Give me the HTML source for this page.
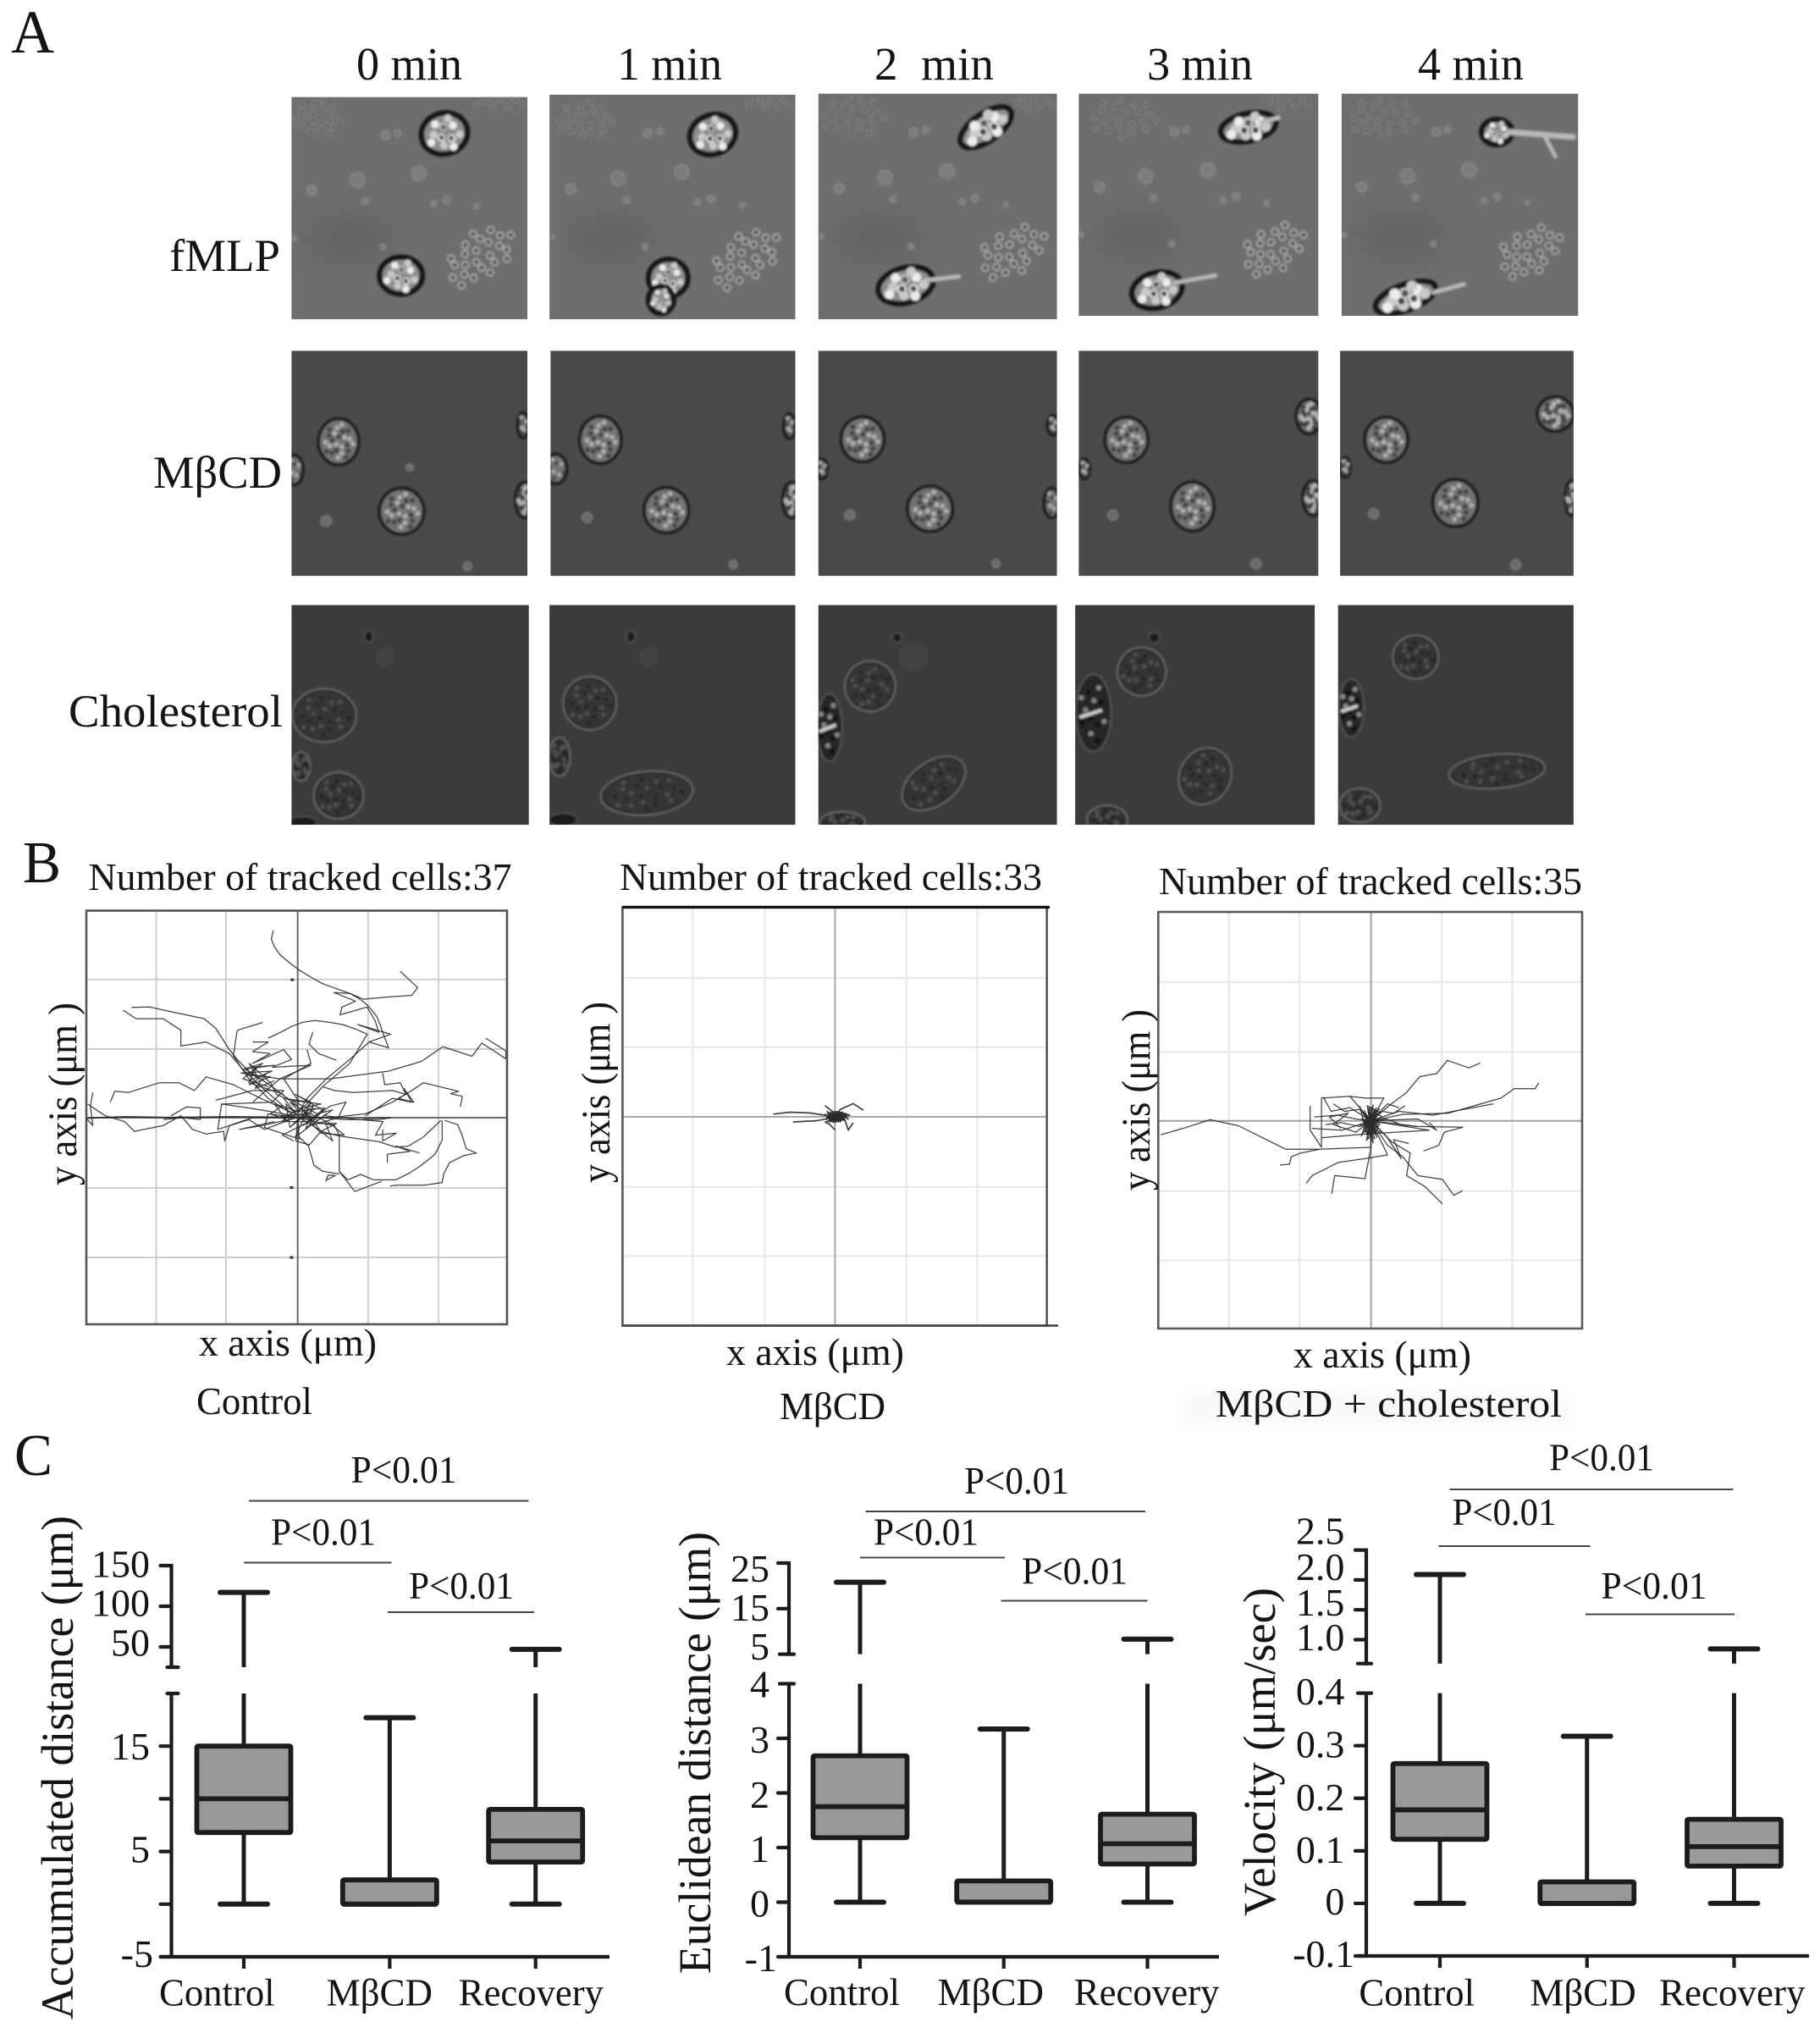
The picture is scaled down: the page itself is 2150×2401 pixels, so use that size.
<!DOCTYPE html>
<html lang="en">
<head>
<meta charset="utf-8">
<title>Cell migration figure</title>
<style>
html,body{margin:0;padding:0;background:#fff;}
svg{display:block;}
text{font-family:"Liberation Serif","DejaVu Serif",serif;fill:#141414;}
</style>
</head>
<body>
<svg id="fig" xmlns="http://www.w3.org/2000/svg" width="2150" height="2401" viewBox="0 0 2150 2401">
<defs>
<filter id="soft" x="-5%" y="-5%" width="110%" height="110%"><feGaussianBlur stdDeviation="1.4"/></filter>
<filter id="softer" x="-30%" y="-30%" width="160%" height="160%"><feGaussianBlur stdDeviation="16"/></filter>
<filter id="trackBlur" x="-5%" y="-5%" width="110%" height="110%"><feGaussianBlur stdDeviation="0.35"/></filter>
<filter id="backdropBlur" x="-10%" y="-40%" width="120%" height="180%"><feGaussianBlur stdDeviation="6"/></filter>
</defs>
<rect width="2150" height="2401" fill="#ffffff"/>

<g id="panelA"></g>
<g id="panelB"></g>
<g id="panelC"></g>

<g>
<text x="13" y="62" font-size="72" textLength="51" lengthAdjust="spacingAndGlyphs">A</text>
<text x="421" y="94" font-size="55" textLength="125" lengthAdjust="spacingAndGlyphs">0 min</text>
<text x="729" y="94" font-size="55" textLength="124" lengthAdjust="spacingAndGlyphs">1 min</text>
<text x="1033" y="94" font-size="55" xml:space="preserve" textLength="141" lengthAdjust="spacingAndGlyphs">2  min</text>
<text x="1355" y="94" font-size="55" textLength="125" lengthAdjust="spacingAndGlyphs">3 min</text>
<text x="1675" y="94" font-size="55" textLength="125" lengthAdjust="spacingAndGlyphs">4 min</text>
<text x="200" y="320" font-size="54" textLength="131" lengthAdjust="spacingAndGlyphs">fMLP</text>
<text x="181" y="576" font-size="54" textLength="152" lengthAdjust="spacingAndGlyphs">MβCD</text>
<text x="81" y="858" font-size="54" textLength="253" lengthAdjust="spacingAndGlyphs">Cholesterol</text>
</g>

<g>
<text x="27" y="1042" font-size="70" textLength="45" lengthAdjust="spacingAndGlyphs">B</text>
<text x="104.5" y="1051" font-size="46" textLength="500" lengthAdjust="spacingAndGlyphs">Number of tracked cells:37</text>
<text x="732" y="1051" font-size="46" textLength="499" lengthAdjust="spacingAndGlyphs">Number of tracked cells:33</text>
<text x="1369" y="1056" font-size="46" textLength="500" lengthAdjust="spacingAndGlyphs">Number of tracked cells:35</text>
<text transform="translate(90,1400) rotate(-90)" font-size="48" xml:space="preserve" textLength="216" lengthAdjust="spacingAndGlyphs">y axis (μm )</text>
<text transform="translate(720,1397) rotate(-90)" font-size="48" xml:space="preserve" textLength="214" lengthAdjust="spacingAndGlyphs">y axis (μm )</text>
<text transform="translate(1358,1406) rotate(-90)" font-size="48" xml:space="preserve" textLength="214" lengthAdjust="spacingAndGlyphs">y axis (μm )</text>
<text x="235" y="1601" font-size="46" textLength="210" lengthAdjust="spacingAndGlyphs">x axis (μm)</text>
<text x="858" y="1612" font-size="46" textLength="210" lengthAdjust="spacingAndGlyphs">x axis (μm)</text>
<text x="1528" y="1615" font-size="46" textLength="210" lengthAdjust="spacingAndGlyphs">x axis (μm)</text>
<text x="232" y="1670" font-size="46" textLength="137" lengthAdjust="spacingAndGlyphs">Control</text>
<text x="921" y="1676" font-size="46" textLength="125" lengthAdjust="spacingAndGlyphs">MβCD</text>
<rect x="1395" y="1642" width="460" height="46" fill="#f9f9f9" filter="url(#backdropBlur)"/>
<text x="1436" y="1673" font-size="46" textLength="409" lengthAdjust="spacingAndGlyphs">MβCD + cholesterol</text>
</g>

<g>
<text x="17" y="1742" font-size="70" textLength="45" lengthAdjust="spacingAndGlyphs">C</text>
<text transform="translate(86,2385) rotate(-90)" font-size="54" textLength="595" lengthAdjust="spacingAndGlyphs">Accumulated distance (μm)</text>
<text transform="translate(839,2331) rotate(-90)" font-size="54" textLength="522" lengthAdjust="spacingAndGlyphs">Euclidean distance (μm)</text>
<text transform="translate(1506,2263) rotate(-90)" font-size="54" textLength="388" lengthAdjust="spacingAndGlyphs">Velocity (μm/sec)</text>

<text x="414.5" y="1751" font-size="46" textLength="125" lengthAdjust="spacingAndGlyphs">P&lt;0.01</text>
<text x="320" y="1824.5" font-size="46" textLength="124" lengthAdjust="spacingAndGlyphs">P&lt;0.01</text>
<text x="483" y="1888" font-size="46" textLength="124" lengthAdjust="spacingAndGlyphs">P&lt;0.01</text>
<line x1="294" y1="1772.5" x2="624.5" y2="1772.5" stroke="#444" stroke-width="2"/>
<line x1="288" y1="1845.5" x2="462.5" y2="1845.5" stroke="#444" stroke-width="2"/>
<line x1="458" y1="1904" x2="631" y2="1904" stroke="#444" stroke-width="2"/>

<text x="1139" y="1764" font-size="46" textLength="124" lengthAdjust="spacingAndGlyphs">P&lt;0.01</text>
<text x="1032" y="1824.5" font-size="46" textLength="124" lengthAdjust="spacingAndGlyphs">P&lt;0.01</text>
<text x="1207" y="1870.5" font-size="46" textLength="125" lengthAdjust="spacingAndGlyphs">P&lt;0.01</text>
<line x1="1022.5" y1="1785" x2="1353" y2="1785" stroke="#444" stroke-width="2"/>
<line x1="1016" y1="1839.5" x2="1187" y2="1839.5" stroke="#444" stroke-width="2"/>
<line x1="1182.5" y1="1890.5" x2="1355.5" y2="1890.5" stroke="#444" stroke-width="2"/>

<text x="1830" y="1736.5" font-size="46" textLength="124" lengthAdjust="spacingAndGlyphs">P&lt;0.01</text>
<text x="1715.5" y="1801" font-size="46" textLength="123" lengthAdjust="spacingAndGlyphs">P&lt;0.01</text>
<text x="1891.5" y="1888" font-size="46" textLength="125" lengthAdjust="spacingAndGlyphs">P&lt;0.01</text>
<line x1="1712.5" y1="1759" x2="2047.5" y2="1759" stroke="#444" stroke-width="2"/>
<line x1="1699.5" y1="1826" x2="1878.5" y2="1826" stroke="#444" stroke-width="2"/>
<line x1="1873" y1="1906.5" x2="2049" y2="1906.5" stroke="#444" stroke-width="2"/>
</g>
</svg>

<script>
/* ---------- Panel C data ---------- */
const boxCategories = ['Control', 'MβCD', 'Recovery'];

const accumulatedMin = [0, 0, 0];
const accumulatedQ1 = [6.8, 0, 4];
const accumulatedMedian = [10, 0, 6];
const accumulatedQ3 = [15, 2.3, 9];
const accumulatedMax = [117, 17.7, 47];
const accumulatedLowerTicks = [-5, 0, 5, 10, 15, 20];
const accumulatedUpperTicks = [25, 50, 100, 150];
const accumulatedTickLabels = ['-5', '5', '15', '50', '100', '150'];

const euclideanMin = [0, 0, 0];
const euclideanQ1 = [1.18, 0, 0.7];
const euclideanMedian = [1.75, 0, 1.07];
const euclideanQ3 = [2.68, 0.39, 1.61];
const euclideanMax = [20.8, 3.17, 8.3];
const euclideanLowerTicks = [-1, 0, 1, 2, 3, 4];
const euclideanUpperTicks = [5, 15, 25];
const euclideanTickLabels = ['-1', '0', '1', '2', '3', '4', '5', '15', '25'];

const velocityMin = [0, 0, 0];
const velocityQ1 = [0.122, 0, 0.071];
const velocityMedian = [0.178, 0, 0.108];
const velocityQ3 = [0.266, 0.041, 0.16];
const velocityMax = [2.09, 0.318, 0.846];
const velocityLowerTicks = [-0.1, 0, 0.1, 0.2, 0.3, 0.4];
const velocityUpperTicks = [0.6, 1.0, 1.5, 2.0, 2.5];
const velocityTickLabels = ['-0.1', '0', '0.1', '0.2', '0.3', '0.4', '1.0', '1.5', '2.0', '2.5'];

/* ---------- Panel B data: cell tracks relative to the origin ---------- */
const controlTracks = [
 [[-63,482],[-68,460],[-60,440],[-46,420],[-20,398],[4,380],[34,362],[64,345],[100,332],[134,320],[156,308],[174,295],[190,278],[204,260],[212,240],[219,220],[234,180],[184,195],[134,150],[74,100],[24,50],[0,10]],
 [[264,377],[309,335],[294,315],[224,310],[169,305],[134,320],[94,322],[149,300],[114,285],[109,265],[179,285],[199,250],[209,220],[154,240],[239,215],[184,195]],
 [[-428,284],[-381,285],[-336,275],[-241,255],[-211,230],[-176,175],[-156,150],[-126,120],[-66,80],[0,30]],
 [[-450,277],[-416,255],[-346,255],[-301,225],[-301,185],[-236,195],[-176,165],[-146,130],[-106,90],[-26,20]],
 [[-91,245],[-156,225],[-166,160],[-126,100],[-76,50],[-16,10]],
 [[-76,205],[-40,222],[-16,235],[14,246],[44,250],[80,246],[114,240],[150,228],[179,215],[134,140],[64,80],[9,20]],
 [[39,220],[29,190],[54,165],[99,148]],
 [[24,175],[34,140],[-36,100],[4,40]],
 [[484,205],[536,172],[536,152],[474,192],[449,158],[374,183],[319,145],[234,120],[84,100],[-46,100],[-116,40]],
 [[419,28],[424,55],[394,62],[414,68],[324,90],[294,70],[244,40],[174,10],[84,0],[0,2]],
 [[219,115],[224,85],[264,90],[279,60],[259,50],[299,40],[274,75],[294,40],[244,50],[174,5]],
 [[64,80],[94,70],[144,65],[244,70],[279,60]],
 [[-483,40],[-471,68],[-436,65],[-356,90],[-306,90],[-266,70],[-236,105],[-166,85],[-96,50],[-6,10]],
 [[-541,35],[-496,5],[-446,-10],[-421,-35],[-346,-20],[-301,5],[-271,-30],[-236,-42],[-191,-35],[-188,-60],[-176,-20],[-116,0],[0,0]],
 [[-544,-2],[-446,2],[-336,0],[-166,2],[0,2]],
 [[-544,-1],[-446,3],[-336,1],[-166,3],[0,1]],
 [[-528,65],[-534,30],[-528,-20],[-544,-2]],
 [[-326,5],[-286,28],[-251,25],[-251,-5],[-296,0],[-346,-5]],
 [[379,-7],[412,-18],[423,-44],[434,-80],[460,-91],[427,-98],[391,-116],[376,-145],[372,-167],[325,-174],[253,-174],[238,-176]],
 [[372,-7],[372,-58],[354,-94],[318,-123],[289,-142],[253,-160],[195,-160],[162,-146],[129,-160],[107,-138],[107,-44],[94,-20],[34,10]],
 [[107,-138],[147,-190],[216,-164]],
 [[369,-7],[322,-51],[285,-73],[253,-76],[209,-62],[107,-47],[64,-36],[4,0]],
 [[314,-91],[253,-73],[289,-87],[231,-94],[231,-116]],
 [[219,-30],[219,-60],[254,-40],[200,-45],[220,-10],[160,-5],[70,5]],
 [[4,-50],[28,-73],[42,-123],[64,-138],[107,-145]],
 [[75,-160],[97,-149],[78,-148],[72,-165]],
 [[-211,45],[-116,70],[-36,70],[-66,40],[-196,35],[-126,25],[-6,5]],
 [[-196,35],[-206,-30],[-126,-5],[-86,-30],[-6,0]],
 [[-116,195],[-76,195],[-116,170],[-71,165],[-116,140],[-36,175],[-16,150],[-66,130],[34,135],[-46,100],[-146,115],[-66,120],[-126,95],[-76,80],[-141,100],[-106,130],[-126,90],[-36,60]],
 [[-140,125],[-90,140],[-130,110],[-70,105],[-125,85],[-80,115],[-110,75],[-60,95]],
 [[-120,130],[-60,135],[-135,125],[-100,100],[-125,140],[-70,90],[-55,60],[-20,45]],
 [[0,5],[-36,50],[34,40],[-6,60],[64,20],[14,-20],[84,30],[124,40],[104,0],[34,-20],[74,10],[-6,-50],[34,40],[0,0]],
 [[4,0],[-30,35],[-20,-25],[40,30],[20,-30],[70,25],[-10,15],[-40,-10],[35,-10],[10,25],[-25,5],[50,-5]],
 [[10,25],[60,35],[-15,45],[50,10],[90,20],[40,-15],[100,-15],[60,-35],[20,15],[-15,-20],[45,25]],
 [[0,0],[-76,10],[-86,-25],[4,-55],[0,0]],
 [[0,0],[-90,-20],[-150,-30],[-60,-10]],
 [[10,5],[120,-5],[210,-5],[240,0],[170,-2]],
 [[0,0],[90,-20],[120,-45],[60,-40],[30,-10],[-40,-45],[-10,-60]],
 [[0,-5],[-5,-60],[30,-70],[60,-35],[90,-60],[70,-10]],
 [[-40,30],[-70,10],[-30,-5],[-60,35],[5,15],[-20,40],[30,10],[-45,5]]
];

const mbcdTracks = [
 [[-159,7],[-116,12],[-65,10],[-20,3],[0,0]],
 [[-108,-13],[-47,-10],[-10,-3],[0,0]],
 [[73,17],[47,34],[13,19],[0,0]],
 [[-26,29],[-8,15],[0,0]],
 [[47,-15],[34,-34],[22,3],[5,0]],
 [[0,-34],[-14,-19],[-25,-14],[0,-3]],
 [[-26,8],[-10,-12],[-20,14],[-4,-14],[-14,12],[2,-14],[-8,14],[8,-12],[-2,14],[14,-12],[4,14],[24,-10],[10,14],[34,-6],[16,12],[38,4],[-4,0]],
 [[-24,-8],[-6,14],[-16,-13],[0,12],[-10,-13],[6,13],[-4,-14],[12,10],[2,-13],[18,12],[8,-13],[28,8],[14,-12],[-6,6]],
 [[-20,0],[-5,-9],[-15,9],[5,-8],[-5,10],[15,-9],[5,9],[30,2],[-12,3],[10,3],[-8,-5],[12,-3]],
 [[-22,4],[-4,-11],[-12,7],[8,-9],[2,10],[20,-8],[10,8],[30,-2],[18,4],[-10,-6],[0,7],[20,2],[-16,-4],[6,-4],[14,6]]
];

const cholesterolTracks = [
 [[-556,-37],[-490,-18],[-426,3],[-351,-13],[-286,-45],[-226,-75],[-136,-75],[0,-70],[0,-15]],
 [[289,153],[259,140],[202,160],[174,125],[129,117],[94,75],[54,45],[0,0]],
 [[444,100],[434,85],[379,85],[344,60],[284,43],[204,20],[84,17],[0,0]],
 [[244,-17],[194,-30],[179,-65],[139,-80]],
 [[244,-17],[124,-15],[0,0]],
 [[242,-185],[219,-197],[189,-155],[124,-145],[84,-95],[44,-65],[0,0]],
 [[189,-220],[144,-175],[94,-145],[104,-85],[54,-55],[0,0]],
 [[-171,-165],[-156,-145],[-86,-110],[-16,-100],[44,-90],[0,0]],
 [[-104,-193],[-96,-145],[-16,-153],[-1,-75],[0,0]],
 [[-241,-117],[-216,-115],[-211,-95],[-186,-85],[-136,-75]],
 [[-161,40],[-161,-25],[-131,-70],[-131,60],[-56,65],[0,0]],
 [[-126,63],[-106,25],[-56,35],[0,0]],
 [[-156,-20],[-76,-25],[0,0]],
 [[-131,-45],[-16,-35],[154,-25],[0,0]],
 [[-56,65],[-16,60],[34,60],[0,0]],
 [[74,35],[44,45],[0,0],[74,25],[164,15],[324,45]],
 [[154,-5],[174,-25],[124,5],[0,0]],
 [[100,-60],[60,-50],[80,-100],[40,-40],[0,0]],
 [[-80,-20],[-110,10],[-60,20],[-100,-10],[-40,-30],[0,0]],
 [[-150,10],[-90,15],[-40,5],[0,0]],
 [[-120,-10],[-80,-5],[-30,-15],[0,0]],
 [[-100,45],[-70,25],[-30,30],[0,0]],
 [[90,40],[60,20],[30,25],[0,0]],
 [[120,-15],[80,-10],[40,5],[0,0]],
 [[-30,40],[-8,-45],[14,35],[-18,-30],[22,32],[-26,-40],[6,42],[-12,-52],[20,-20],[-22,22],[16,-44],[-6,30],[30,10],[-30,-10],[26,-30]],
 [[-18,28],[10,-48],[-20,-20],[24,22],[-10,40],[6,-58],[-24,6],[24,-8],[-6,-34],[8,26],[-14,-6],[16,12],[-4,-20],[4,14]],
 [[-14,20],[12,-30],[-16,-28],[14,26],[-6,34],[2,-40],[-18,2],[18,-6],[-8,-22],[10,18],[-10,-8],[10,6],[-4,-12],[4,8]],
 [[-10,14],[8,-20],[-12,-16],[10,14],[-4,22],[4,-26],[-12,0],[12,-2],[-4,-14],[6,10],[-8,-4],[8,2]],
 [[-20,-6],[14,18],[-12,-36],[20,-14],[-16,12],[10,-34],[-8,24],[16,2],[-14,-18],[6,-8],[-6,8]]
];

/* ---------- Panel C drawing ---------- */
const svgNS = 'http://www.w3.org/2000/svg';
function mk(parent, tag, attrs) {
  const n = document.createElementNS(svgNS, tag);
  for (const k in attrs) n.setAttribute(k, attrs[k]);
  parent.appendChild(n);
  return n;
}

const boxCharts = [
  { id: 'accumulated', axisX: 202.5, xStart: 190, xEnd: 720, bottom: 2311, cat0: 288, catStep: 172.35,
    low: [-5, 20, 2311, 2000], up: [25, 150, 1969, 1849], lowTicks: accumulatedLowerTicks, upTicks: accumulatedUpperTicks,
    labels: accumulatedTickLabels, labelRight: 177, negRight: 181, breakIn: -5, breakOut: 8,
    catBox: [[188, 136.6], [385.7, 125.3], [541.8, 171.2]], catBase: 2368.7,
    nudge: { '150': 13.7, '100': 11.6, '50': 10.5, '15': 16, '5': 13, '-5': 12 },
    min: accumulatedMin, q1: accumulatedQ1, med: accumulatedMedian, q3: accumulatedQ3, max: accumulatedMax },
  { id: 'euclidean', axisX: 932, xStart: 921, xEnd: 1440, bottom: 2311, cat0: 1016, catStep: 169.75,
    low: [-1, 4, 2311, 1988.5], up: [5, 25, 1953.6, 1846], lowTicks: euclideanLowerTicks, upTicks: euclideanUpperTicks,
    labels: euclideanTickLabels, labelRight: 909, negRight: 918, breakIn: -11, breakOut: 6,
    catBox: [[926, 137], [1107.6, 125.4], [1268.7, 171.8]], catBase: 2367.8,
    nudge: { '25': 22, '15': 14, '5': 6.4, '4': 16, '3': 17, '2': 17.5, '1': 16.8, '0': 17, '-1': 17 },
    min: euclideanMin, q1: euclideanQ1, med: euclideanMedian, q3: euclideanQ3, max: euclideanMax },
  { id: 'velocity', axisX: 1614, xStart: 1603.5, xEnd: 2137, bottom: 2310, cat0: 1701, catStep: 173.75,
    low: [-0.1, 0.4, 2310, 1999.6], up: [0.6, 2.5, 1964.7, 1830.6], lowTicks: velocityLowerTicks, upTicks: velocityUpperTicks,
    labels: velocityTickLabels, labelRight: 1588.4, negRight: 1600, breakIn: -10, breakOut: 6,
    catBox: [[1605.4, 136.6], [1807.4, 125.4], [1960, 172.5]], catBase: 2368.7,
    nudge: { '2.5': -7, '2.0': 0, '1.5': 7, '1.0': 12.6, '0.4': 13.4, '0.3': 14, '0.2': 14, '0.1': 14, '0': 13.3, '-0.1': 12.8 },
    min: velocityMin, q1: velocityQ1, med: velocityMedian, q3: velocityQ3, max: velocityMax }
];

const inkC = '#1c1c1c';
const panelC = document.getElementById('panelC');

boxCharts.forEach(function (c) {
  const g = mk(panelC, 'g', {});
  
  

  function yScale(v) {
    if (v <= c.low[1]) return c.low[2] + (v - c.low[0]) / (c.low[1] - c.low[0]) * (c.low[3] - c.low[2]);
    return c.up[2] + (v - c.up[0]) / (c.up[1] - c.up[0]) * (c.up[3] - c.up[2]);
  }
  function catX(i) { return c.cat0 + i * c.catStep; }

  const lowTopPx = yScale(c.low[1]);
  const upBottomPx = yScale(c.up[0]);

  const yAxisLow = mk(g, 'line', { x1: c.axisX, x2: c.axisX, y1: c.bottom + 2, y2: lowTopPx - 2, stroke: inkC, 'stroke-width': 4.2 });
  
  
  const yAxisUp = mk(g, 'line', { x1: c.axisX, x2: c.axisX, y1: upBottomPx + 2, y2: yScale(c.up[1]) - 2, stroke: inkC, 'stroke-width': 4.2 });
  
  
  const xAxis = mk(g, 'line', { x1: c.xStart, x2: c.xEnd, y1: c.bottom, y2: c.bottom, stroke: inkC, 'stroke-width': 4.2 });
  
  

  c.lowTicks.concat(c.upTicks).forEach(function (t) {
    const y = yScale(t);
    const isBreak = (t === c.low[1] || t === c.up[0]);
    const tick = mk(g, 'line', {
      x1: c.axisX + (isBreak ? c.breakIn : -13), x2: c.axisX + (isBreak ? c.breakOut : 0),
      y1: y, y2: y, stroke: inkC, 'stroke-width': 4.2, 'stroke-linecap': 'round'
    });
    
    
  });

  c.labels.forEach(function (lab) {
    const y = yScale(parseFloat(lab)) + (c.nudge[lab] !== undefined ? c.nudge[lab] : 14);
    const t = mk(g, 'text', { x: lab.charAt(0) === '-' ? c.negRight : c.labelRight, y: y, 'font-size': 46, 'text-anchor': 'end' });
    t.textContent = lab;
    
    
  });

  boxCategories.forEach(function (name, i) {
    const x = catX(i);
    const xt = mk(g, 'line', { x1: x, x2: x, y1: c.bottom, y2: c.bottom + 14, stroke: inkC, 'stroke-width': 4.2 });
    
    

    const lab = mk(g, 'text', { x: c.catBox[i][0], y: c.catBase, 'font-size': 46, textLength: c.catBox[i][1], lengthAdjust: 'spacingAndGlyphs' });
    lab.textContent = name;
    
    

    const box = mk(g, 'g', {});
    
    

    const segs = [];
    if (c.max[i] > c.low[1]) {
      segs.push([yScale(c.max[i]), upBottomPx]);
      segs.push([lowTopPx, yScale(c.q3[i])]);
    } else {
      segs.push([yScale(c.max[i]), yScale(c.q3[i])]);
    }
    segs.push([yScale(c.q1[i]), yScale(c.min[i])]);
    segs.forEach(function (s) {
      const w = mk(box, 'line', { x1: x, x2: x, y1: s[0], y2: s[1], stroke: inkC, 'stroke-width': 5 });
      
      
    });
    [c.max[i], c.min[i]].forEach(function (v) {
      const cap = mk(box, 'line', { x1: x - 28, x2: x + 28, y1: yScale(v), y2: yScale(v), stroke: inkC, 'stroke-width': 6, 'stroke-linecap': 'round' });
      
      
    });
    const r = mk(box, 'rect', { x: x - 55.5, y: yScale(c.q3[i]), width: 111, height: yScale(c.q1[i]) - yScale(c.q3[i]), fill: '#999999', stroke: inkC, 'stroke-width': 5.8, rx: 1.5 });
    
    
    const m = mk(box, 'line', { x1: x - 55.5, x2: x + 55.5, y1: yScale(c.med[i]), y2: yScale(c.med[i]), stroke: inkC, 'stroke-width': 5.8 });
    
    
  });
});

/* ---------- Panel B drawing ---------- */
const trackPlots = [
  { id: 'control', x0: 102, x1: 599, y0: 1075.5, y1: 1564, cx: 351.7, cy: 1320, unit: 0.4586,
    gx: [184.6, 267, 434.8, 518], gy: [1156.8, 1239, 1403, 1485], grid: '#cfcfcf', axis: '#6a6a6a', frame: '#555555', sw: 1.25, tracks: controlTracks },
  { id: 'mbcd', x0: 735.4, x1: 1236.7, y0: 1071.4, y1: 1565.6, cx: 986.4, cy: 1319, unit: 0.4591,
    gx: [818.4, 903.4, 1070.7, 1154.5], gy: [1155, 1236.6, 1401.8, 1483.5], grid: '#e8e8e8', axis: '#a8a8a8', frame: '#555555', sw: 1.7, tracks: mbcdTracks },
  { id: 'cholesterol', x0: 1368.3, x1: 1869, y0: 1077, y1: 1569, cx: 1619.6, cy: 1323.7, unit: 0.4465,
    gx: [1451.8, 1535, 1703, 1786.6], gy: [1159.8, 1242.4, 1406.7, 1488.4], grid: '#e6e6e6', axis: '#a0a0a0', frame: '#5a5a5a', sw: 1.25, tracks: cholesterolTracks }
];
const panelB = document.getElementById('panelB');

trackPlots.forEach(function (p) {
  const g = mk(panelB, 'g', {});
  
  
  function xScale(v) { return p.cx + v * p.unit; }
  function yScale(v) { return p.cy - v * p.unit; }

  p.gx.forEach(function (x) {
    const l = mk(g, 'line', { x1: x, x2: x, y1: p.y0, y2: p.y1, stroke: p.grid, 'stroke-width': 2 });
    
    
  });
  p.gy.forEach(function (y) {
    const l = mk(g, 'line', { x1: p.x0, x2: p.x1, y1: y, y2: y, stroke: p.grid, 'stroke-width': 2 });
    
    
  });
  const ax = mk(g, 'line', { x1: p.cx, x2: p.cx, y1: p.y0, y2: p.y1, stroke: p.axis, 'stroke-width': 2 });
  
  
  const ay = mk(g, 'line', { x1: p.x0, x2: p.x1, y1: p.cy, y2: p.cy, stroke: p.axis, 'stroke-width': 2 });
  
  

  const trackLayer = mk(g, 'g', { filter: 'url(#trackBlur)' });
  
  
  p.tracks.forEach(function (track) {
    const pts = track.map(function (pt) { return xScale(pt[0]).toFixed(1) + ',' + yScale(pt[1]).toFixed(1); }).join(' ');
    const line = mk(trackLayer, 'polyline', { points: pts, fill: 'none', stroke: '#2c2c2c', 'stroke-width': p.sw, 'stroke-linejoin': 'round', 'stroke-opacity': 0.9 });
    
    
  });

  const frame = mk(g, 'rect', { x: p.x0, y: p.y0, width: p.x1 - p.x0, height: p.y1 - p.y0, fill: 'none', stroke: p.frame, 'stroke-width': 2.6 });
  
  

  if (p.id === 'mbcd') {
    const top = mk(g, 'line', { x1: p.x0, x2: 1240, y1: p.y0, y2: p.y0, stroke: '#111', 'stroke-width': 3.4 });
    
    
    const bot = mk(g, 'line', { x1: p.x0, x2: 1250, y1: p.y1, y2: p.y1, stroke: '#444', 'stroke-width': 2.6 });
    
    
  }
  if (p.id === 'control') {
    [[-14, 355], [-16, -180], [-16, -360]].forEach(function (d) {
      const dot = mk(g, 'rect', { x: xScale(d[0]) - 2, y: yScale(d[1]) - 1.5, width: 4, height: 3, fill: '#333' });
      
      
    });
  }
});

/* ---------- Panel A: microscopy frames sketched with shapes ---------- */
const m7 = { ox: 320, oy: 90, sx: 2.376, sy: 1.742 };
const m8 = { ox: 950, oy: 90, sx: 1.668, sy: 1.742 };
const row1 = '#6e6e6e', row2 = '#4a4a4a', row3 = '#3b3b3b';

const droplets = [[.399,.172,12],[.449,.162,9],[.539,.344,20],[.279,.372,20],[.086,.42,14],[.313,.468,9],[.603,.479,8],[.657,.464,10],[.785,.492,7],[.011,.634,7],[.388,.676,8]];

const frames = [
 { m: m7, r: [58, 43, 720, 500], bg: row1, drops: 1, f: [['E',130,85,75,40,24],['E',640,55,80,15,10],['A',487,118,65,42,-15],['A',365,410,60,38,0],['C',585,370,120,48,24,-38]] },
 { m: m7, r: [782, 38, 1472, 500], bg: row1, drops: 1, f: [['E',880,90,90,40,24],['E',1400,55,70,15,10],['A',1240,120,65,40,-20],['A',1115,415,55,38,0],['A',1095,460,35,28,0],['C',1330,375,120,48,24,-38]] },
 { m: m8, r: [28, 36, 498, 500], bg: row1, drops: 1, f: [['E',95,80,70,45,24],['E',450,55,45,15,8],['A',358,105,58,28,-35],['A',200,430,55,36,-15],['T',240,420,305,412,5],['C',410,360,75,50,22,-30]] },
 { m: m8, r: [541, 36, 1013, 493], bg: row1, drops: 1, f: [['E',630,85,70,45,22],['E',950,55,50,15,8],['A',875,105,55,28,-12],['T',900,95,935,85,5],['A',695,440,50,36,-15],['T',730,425,810,410,5],['C',925,355,70,50,22,-30]] },
 { m: m8, r: [1059, 36, 1525, 493], bg: row1, drops: 1, f: [['E',1140,85,70,45,22],['A',1365,115,30,26,0],['T',1390,115,1515,125,7],['T',1460,125,1480,165,5],['A',1185,455,62,26,-20],['T',1240,445,1300,428,5],['C',1430,360,70,50,22,-30]] },

 { m: m7, r: [58, 565, 720, 1028], bg: row2, f: [['R',190,752,56,47,0],['R',367,895,62,47,0],['R',65,810,25,30,0],['R',712,872,25,36,0],['R',708,718,15,25,0],['L',155,915,15],['L',552,1008,12],['L',390,805,10]] },
 { m: m7, r: [785, 565, 1472, 1028], bg: row2, f: [['R',925,748,58,48,0],['R',1110,893,62,46,0],['R',800,808,30,30,0],['R',1462,872,25,36,0],['R',1455,720,15,25,0],['L',888,908,14],['L',1298,1005,12]] },
 { m: m8, r: [28, 565, 498, 1028], bg: row2, f: [['R',115,747,42,46,0],['R',248,890,44,46,0],['R',35,808,10,20,0],['R',488,878,15,30,0],['R',490,718,10,20,0],['L',90,903,10],['L',378,1003,8]] },
 { m: m8, r: [541, 565, 1013, 1028], bg: row2, f: [['R',635,748,42,46,0],['R',765,885,42,50,0],['R',552,808,10,20,0],['R',1003,868,20,35,0],['R',995,700,25,35,0],['L',608,903,10],['L',890,1003,10]] },
 { m: m8, r: [1056, 565, 1516, 1028], bg: row2, f: [['R',1147,748,42,46,0],['R',1283,878,44,48,0],['R',1066,805,10,20,0],['R',1512,868,12,35,0],['R',1480,695,35,35,0],['L',1122,900,10],['L',1402,1005,10]] },

 { m: m7, r: [58, 1088, 724, 1540], bg: row3, f: [['O',150,1315,90,55,0],['O',85,1420,25,30,0],['O',190,1480,70,48,0],['D',275,1153,13,12],['F',320,1195,25],['D',90,1535,40,12]] },
 { m: m7, r: [782, 1088, 1472, 1540], bg: row3, f: [['O',895,1290,75,55,0],['O',810,1400,30,40,0],['O',1055,1475,130,45,-5],['D',1010,1153,13,12],['F',1060,1195,25],['D',820,1530,40,14]] },
 { m: m8, r: [28, 1088, 498, 1540], bg: row3, f: [['O',130,1255,50,52,-30],['O',255,1455,70,45,-35],['X',50,1340,25,70],['D',183,1155,10,10],['F',215,1195,28],['O',75,1535,45,22,0]] },
 { m: m8, r: [534, 1088, 1006, 1540], bg: row3, f: [['O',665,1225,48,50,20],['O',790,1440,50,60,30],['X',570,1310,35,80],['D',690,1155,11,11],['O',597,1530,40,30,0]] },
 { m: m8, r: [1052, 1088, 1516, 1540], bg: row3, f: [['O',1205,1195,45,45,0],['O',1365,1430,95,35,-5],['X',1078,1300,25,60],['O',1095,1500,40,35,0]] }
];

const panelA = document.getElementById('panelA');
const defs = document.querySelector('defs');

function speckle(g, rx, ry, n, size, colorA, colorB) {
  for (let i = 1; i <= n; i++) {
    const r = Math.sqrt(i / n) * 0.78, th = i * 2.39996;
    const s = mk(g, 'circle', { cx: (Math.cos(th) * r * rx).toFixed(1), cy: (Math.sin(th) * r * ry).toFixed(1), r: size, fill: i % 2 ? colorA : colorB });
    
    
  }
}

frames.forEach(function (fr, idx) {
  const m = fr.m;
  const px = function (x) { return m.ox + x / m.sx; };
  const py = function (y) { return m.oy + y / m.sy; };
  const x0 = px(fr.r[0]), y0 = py(fr.r[1]), x1 = px(fr.r[2]), y1 = py(fr.r[3]);
  const clip = mk(defs, 'clipPath', { id: 'frameClip' + idx });
  mk(clip, 'rect', { x: x0, y: y0, width: x1 - x0, height: y1 - y0 });

  const base = mk(panelA, 'rect', { x: x0, y: y0, width: x1 - x0, height: y1 - y0, fill: fr.bg });
  
  

  const g = mk(panelA, 'g', { 'clip-path': 'url(#frameClip' + idx + ')' });
  
  
  const inner = mk(g, 'g', { filter: 'url(#soft)' });

  if (fr.drops) {
    const shade = mk(inner, 'ellipse', { cx: x0 + (x1 - x0) * 0.25, cy: y0 + (y1 - y0) * 0.64, rx: 55, ry: 30, fill: '#636363', filter: 'url(#softer)' });
    
    
    droplets.forEach(function (d) {
      const c = mk(inner, 'circle', { cx: x0 + d[0] * (x1 - x0), cy: y0 + d[1] * (y1 - y0), r: d[2] / 2.376, fill: '#7c7c7c', stroke: '#8c8c8c', 'stroke-width': 1.5 });
      
      
    });
  }

  fr.f.forEach(function (t) {
    const k = t[0];
    const cx = px(t[1]), cy = py(t[2]);
    if (k === 'T') {
      const l = mk(inner, 'line', { x1: cx, y1: cy, x2: px(t[3]), y2: py(t[4]), stroke: '#b8b8b8', 'stroke-width': t[5], 'stroke-linecap': 'round' });
      
      
      return;
    }
    if (k === 'L' || k === 'F') {
      const rad = t[3] / m.sx;
      const c = mk(inner, 'circle', { cx: cx, cy: cy, r: rad, fill: k === 'L' ? '#6a6a6a' : '#424242', stroke: k === 'L' ? '#858585' : '#474747', 'stroke-width': 1.2 });
      
      
      return;
    }
    const rx = t[3] / m.sx, ry = t[4] / m.sy;
    if (k === 'D') {
      const e = mk(inner, 'ellipse', { cx: cx, cy: cy, rx: rx, ry: ry, fill: '#1c1c1c', stroke: '#565656', 'stroke-width': 1.5 });
      
      
      return;
    }
    const rot = (k === 'C' || k === 'E') ? (t[6] || 0) : (t[5] || 0);
    const cell = mk(inner, 'g', { transform: 'translate(' + cx.toFixed(1) + ',' + cy.toFixed(1) + ') rotate(' + rot + ')' });
    
    
    if (k === 'A') {
      mk(cell, 'ellipse', { rx: rx, ry: ry, fill: '#8c8c8c', stroke: '#161616', 'stroke-width': 6.5 });
      speckle(cell, rx, ry, 11, Math.max(rx, ry) * 0.17, '#ededed', '#c9c9c9');
      speckle(cell, rx * 0.5, ry * 0.5, 3, Math.max(rx, ry) * 0.11, '#444444', '#555555');
    } else if (k === 'R') {
      mk(cell, 'ellipse', { rx: rx, ry: ry, fill: '#727272', stroke: '#141414', 'stroke-width': 3.6 });
      const big = Math.max(rx, ry) > 18;
      speckle(cell, rx, ry, big ? 24 : 8, big ? 2.8 : 2.2, '#b4b4b4', '#3e3e3e');
    } else if (k === 'O') {
      mk(cell, 'ellipse', { rx: rx, ry: ry, fill: '#363636', stroke: '#6f6f6f', 'stroke-width': 1.8 });
      mk(cell, 'ellipse', { rx: rx - 2.5, ry: ry - 2.5, fill: 'none', stroke: '#222222', 'stroke-width': 1.4 });
      speckle(cell, rx, ry, 22, 2.6, '#252525', '#525252');
    } else if (k === 'X') {
      mk(cell, 'ellipse', { rx: rx, ry: ry, fill: '#282828', stroke: '#5f5f5f', 'stroke-width': 1.5 });
      speckle(cell, rx, ry, 12, 3, '#111111', '#8a8a8a');
      const bright = mk(cell, 'line', { x1: -rx * 0.7, y1: ry * 0.1, x2: rx * 0.4, y2: -ry * 0.06, stroke: '#cfcfcf', 'stroke-width': 4, 'stroke-linecap': 'round' });
      
      
    } else if (k === 'C' || k === 'E') {
      const n = t[5];
      const faint = k === 'E';
      for (let i = 1; i <= n; i++) {
        const r = Math.sqrt(i / n) * 0.95, th = i * 2.39996;
        const dot = mk(cell, 'circle', {
          cx: (Math.cos(th) * r * rx).toFixed(1), cy: (Math.sin(th) * r * ry).toFixed(1),
          r: faint ? 3 : 4, fill: faint ? '#626262' : '#5c5c5c', stroke: faint ? '#858585' : '#aaaaaa', 'stroke-width': faint ? 1.5 : 2
        });
        
        
      }
    }
  });
});
</script>
</body>
</html>
